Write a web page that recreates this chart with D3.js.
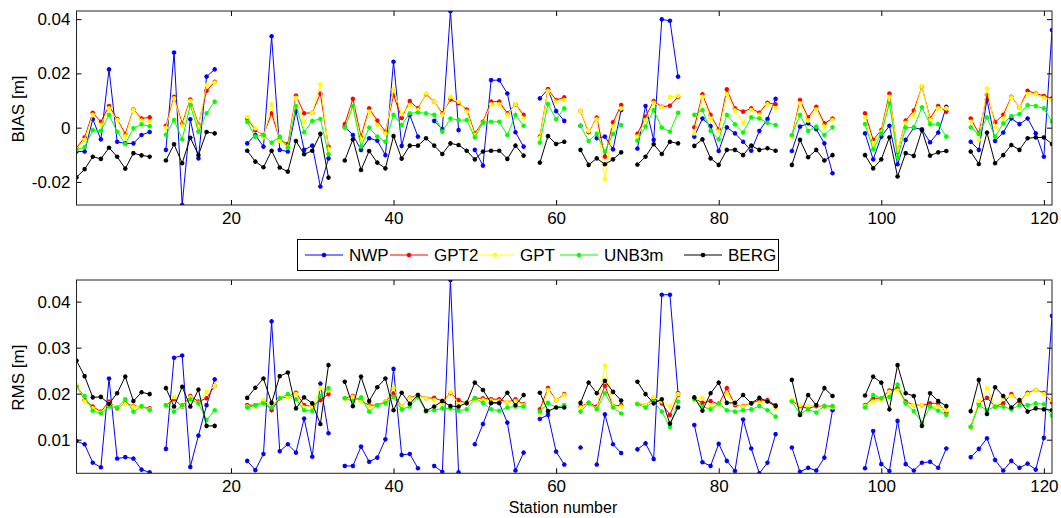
<!DOCTYPE html>
<html lang="en">
<head>
<meta charset="UTF-8" />
<title>BIAS and RMS per station</title>
<style>
  * { margin: 0; padding: 0; }
  body { background: #fff; }
  svg text { font-family: "Liberation Sans", Arial, sans-serif; fill: #000; }
</style>
</head>
<body>
<svg id="chart" width="1061" height="518"></svg>
<script src="https://d3js.org/d3.v7.min.js"></script>
<script>
// station numbers 1..121, null = no data, in millimetres
const n = null;

const seriesNames = ["NWP", "GPT2", "GPT", "UNB3m", "BERG"];
const seriesColors = ["#0000ff", "#ff0000", "#ffff00", "#00ff00", "#000000"];

const xTicks = [20, 40, 60, 80, 100, 120];
const biasTicks = [-0.02, 0, 0.02, 0.04];
const rmsTicks = [0.01, 0.02, 0.03, 0.04];

// BIAS [mm]
const biasNWP = [
  -8.8, -8.8, 3.1, -4.3, 21.5, -5.2, -5.8, -5.8, -2.7, -1.6,
  n, -8.2, 27.7, -28.5, 3.1, -11.3, 18.8, 21.5, n, n,
  n, -5.8, -2.7, -7.0, 33.7, -8.2, -8.8, 6.1, -8.2, -6.6,
  -21.7, -11.3, n, 0.4, -2.7, -8.2, -3.9, -4.8, -10.1, 24.3,
  -6.7, 4.7, -3.3, n, 2.5, -0.5, 42.9, -0.9, n, -8.2,
  -14.0, 17.5, 17.5, 12.6, -1.7, -7.0, n, 10.8, 14.1, 6.1,
  2.5, n, 0.7, n, -3.9, -3.3, -8.0, 6.5, n, -7.7,
  8.0, -4.5, 39.9, 39.4, 18.8, n, -3.3, 3.4, 0.6, -8.6,
  0.1, -2.1, -5.2, -8.5, -1.2, 3.2, 10.6, n, -8.6, 0.4,
  1.6, -0.6, -5.8, -16.8, n, n, n, -2.1, -11.7, -3.3,
  0.7, -13.5, -4.5, 0.0, -0.6, -5.4, -1.8, 7.7, n, n,
  -5.2, -8.2, 10.4, -4.9, -1.8, 3.4, 1.3, 3.4, -2.1, -10.7,
  36.0
];
const biasGPT2 = [
  -7.4, -3.6, 5.5, 2.2, 8.0, 3.2, -2.3, 6.7, 3.4, 3.8,
  n, 0.7, 11.4, 1.5, 10.4, 1.1, 13.6, 16.9, n, n,
  n, 3.4, -0.9, -2.7, 5.3, -4.5, -6.0, 11.8, 5.3, 5.5,
  12.6, -7.0, n, 1.3, 10.6, -3.3, 7.1, 2.6, -1.5, 12.0,
  3.6, 9.8, 7.1, 12.3, 9.6, 5.3, 10.4, 9.0, 6.7, -2.1,
  2.2, 9.6, 9.6, 5.3, 8.6, 4.7, n, -3.3, 14.1, 10.2,
  11.2, n, 6.1, -1.7, 3.7, -10.7, 2.0, 8.3, n, -2.3,
  4.0, 9.8, 7.7, 8.1, 11.4, n, 0.1, 12.3, 4.7, -0.6,
  14.1, 7.1, 5.9, 7.1, 5.5, 9.2, 8.6, n, -3.1, 10.2,
  3.8, 7.7, 1.6, 3.4, n, n, n, 5.3, -4.5, -0.9,
  12.6, -9.0, 2.6, 6.3, 15.1, 3.4, 8.0, 5.9, n, n,
  3.4, -2.1, 12.0, 2.0, 4.7, 11.4, 7.5, 13.6, 12.6, 11.7,
  10.8
];
const biasGPT = [
  -7.9, -4.5, 4.7, 1.0, 7.1, 2.8, -3.3, 6.5, 2.6, 2.1,
  n, -0.1, 10.8, 0.6, 9.9, 0.4, 15.7, 16.6, n, n,
  n, 4.0, -0.2, -3.6, 8.6, -4.9, -7.0, 11.0, 2.0, 5.5,
  16.0, -7.9, n, -0.2, 7.7, -4.3, 5.9, 1.0, -2.1, 14.1,
  5.0, 8.3, 6.5, 12.6, 9.6, 4.7, 11.4, 9.6, 5.9, -2.7,
  1.8, 8.6, 8.6, 4.7, 8.7, 3.4, n, -3.7, 13.6, 9.6,
  10.2, n, 6.1, -1.2, 3.1, -19.0, 0.4, 7.1, n, -3.3,
  2.8, 9.2, 7.5, 11.4, 11.7, n, -2.1, 11.4, 3.4, -1.5,
  12.3, 6.3, 1.8, 6.5, 4.7, 8.6, 7.1, n, -3.3, 9.0,
  2.6, 6.7, 0.4, 2.8, n, n, n, 3.8, -5.8, -1.5,
  11.4, -8.5, 1.8, 4.7, 15.3, 2.8, 7.1, 7.1, n, n,
  2.2, -4.5, 14.5, 0.1, 3.4, 11.2, 7.5, 12.4, 12.4, 11.0,
  10.2
];
const biasUNB3m = [
  -8.2, -7.2, -0.9, -1.2, 4.7, -1.5, -6.0, -0.2, 1.2, 0.5,
  n, -2.6, 2.8, -4.3, 8.3, -1.5, 5.3, 9.6, n, n,
  n, 2.1, -3.3, -2.7, -5.5, -3.3, -7.4, 8.0, -1.7, 2.5,
  3.2, -9.8, n, 0.0, 8.0, -7.0, 0.0, -3.3, -5.2, 4.7,
  1.0, 5.3, 5.6, 5.3, 4.7, -1.5, 3.4, 2.8, 2.8, -3.6,
  1.8, 2.2, 2.2, -2.7, 4.7, 0.7, n, -5.5, 8.7, 3.1,
  7.1, n, 0.7, -4.9, -2.3, -8.8, -2.3, 1.0, n, -4.8,
  0.4, 6.5, 0.0, -1.5, 5.5, n, 4.7, 6.5, -1.2, -4.3,
  4.7, 1.2, -1.8, 3.8, 3.4, 1.8, 1.0, n, -2.7, 4.7,
  -1.2, 0.4, -2.7, 0.1, n, n, n, 1.3, -8.0, -2.1,
  9.0, -11.0, 0.0, 0.1, 7.5, 1.3, 1.3, -3.3, n, n,
  0.1, -2.3, 3.8, -3.3, 1.6, 4.3, 5.0, 8.3, 8.0, 7.1,
  2.2
];
const biasBERG = [
  -18.3, -15.3, -10.7, -11.5, -7.4, -10.7, -15.1, -9.4, -10.2, -10.7,
  n, -12.1, -6.1, -13.1, -3.7, -10.1, -1.6, -2.1, n, n,
  n, -8.5, -12.5, -14.6, -8.5, -14.7, -16.2, -4.9, -9.8, -8.5,
  -2.3, -18.4, n, -12.1, -4.3, -15.6, -8.6, -12.9, -15.0, -3.1,
  -11.4, -6.6, -6.6, -3.9, -6.6, -9.7, -5.8, -6.4, -8.5, -11.7,
  -8.8, -8.5, -8.5, -11.5, -6.6, -10.3, n, -12.9, -3.1, -6.0,
  -5.2, n, -8.2, -13.7, -11.3, -13.5, -11.7, -9.1, n, -13.6,
  -10.7, -6.1, -9.7, -5.2, -5.8, n, -6.7, -4.3, -11.3, -13.7,
  -8.2, -8.2, -10.1, -6.6, -8.2, -7.6, -8.5, n, -13.7, -4.5,
  -10.9, -8.2, -12.1, -10.1, n, n, n, -10.1, -15.0, -11.7,
  -3.6, -18.0, -9.4, -10.4, -0.9, -10.3, -9.1, -8.6, n, n,
  -8.8, -13.4, -1.8, -13.1, -10.1, -6.4, -8.2, -3.9, -3.6, -3.6,
  -6.0
];

// RMS [mm]
const rmsNWP = [
  9.7, 9.0, 5.0, 4.0, 23.3, 5.9, 6.2, 5.9, 3.5, 2.9,
  n, 8.0, 27.8, 28.3, 4.1, 10.9, 17.5, 23.1, n, n,
  n, 5.4, 3.4, 6.9, 35.7, 7.5, 9.0, 7.2, 14.6, 6.3,
  22.2, 11.4, n, 4.3, 4.3, 8.5, 5.2, 6.1, 10.1, 25.4,
  6.7, 6.9, 3.8, n, 4.3, 3.0, 44.7, 2.9, n, 9.0,
  13.4, 18.0, 18.0, 13.7, 3.3, 7.2, n, 14.5, 15.4, 7.4,
  4.6, n, 8.3, n, 4.6, 15.5, 9.0, 7.1, n, 7.9,
  9.2, 5.8, 41.5, 41.5, 20.1, n, 13.2, 5.1, 4.3, 9.1,
  5.4, 3.2, 14.4, 8.1, 2.7, 5.0, 11.2, n, 8.3, 3.0,
  3.9, 3.3, 6.1, 16.4, n, n, n, 3.8, 11.9, 4.7,
  3.2, 14.1, 4.7, 3.3, 5.0, 5.2, 3.9, 8.1, n, n,
  6.2, 8.0, 10.3, 5.6, 3.3, 5.4, 3.9, 4.8, 3.5, 10.4,
  36.9
];
const rmsGPT2 = [
  21.7, 18.6, 17.2, 16.1, 18.3, 16.8, 17.9, 17.3, 17.2, 16.8,
  n, 17.5, 18.8, 17.2, 19.5, 18.3, 19.0, 21.7, n, n,
  n, 17.5, 17.5, 18.3, 16.4, 19.0, 19.3, 20.2, 17.5, 17.2,
  18.6, 19.9, n, 19.0, 19.5, 18.4, 17.5, 17.5, 18.3, 20.1,
  17.2, 19.1, 19.7, 19.0, 19.1, 18.4, 20.1, 18.6, 17.9, 19.0,
  19.0, 18.8, 18.8, 18.1, 18.8, 17.7, n, 16.6, 21.2, 18.6,
  19.9, n, 17.2, 18.0, 17.2, 21.7, 17.3, 17.5, n, 17.9,
  17.5, 19.0, 17.9, 15.4, 19.7, n, 19.0, 18.0, 18.4, 17.7,
  21.2, 17.5, 17.3, 17.9, 18.6, 18.6, 17.5, n, 18.4, 17.3,
  16.8, 17.3, 17.3, 17.2, n, n, n, 17.5, 19.0, 19.0,
  20.7, 21.2, 18.3, 17.5, 17.5, 17.9, 17.9, 15.9, n, n,
  12.8, 17.9, 19.1, 17.2, 17.9, 19.9, 18.3, 20.2, 20.8, 20.2,
  18.1
];
const rmsGPT = [
  22.0, 18.3, 16.8, 15.9, 17.9, 17.0, 17.7, 17.2, 17.2, 16.6,
  n, 17.5, 19.3, 17.3, 19.2, 18.0, 20.4, 21.7, n, n,
  n, 17.2, 17.2, 18.6, 17.2, 19.3, 19.3, 19.9, 17.0, 17.2,
  21.2, 20.7, n, 18.8, 19.3, 18.3, 17.2, 17.3, 18.3, 21.2,
  17.2, 19.0, 19.5, 19.0, 18.6, 17.5, 20.3, 17.7, 18.1, 18.6,
  18.6, 18.5, 18.4, 18.1, 18.4, 17.5, n, 15.6, 20.8, 18.6,
  19.7, n, 17.0, 17.9, 16.8, 26.1, 17.2, 17.2, n, 18.0,
  17.5, 19.3, 18.3, 17.2, 19.9, n, 18.6, 19.1, 17.2, 17.5,
  19.9, 17.8, 17.2, 17.8, 18.0, 18.3, 16.8, n, 18.6, 17.5,
  17.3, 17.5, 17.2, 17.0, n, n, n, 17.3, 18.3, 18.6,
  20.4, 20.7, 17.9, 17.5, 17.5, 17.2, 17.2, 16.4, n, n,
  12.7, 18.3, 21.2, 17.3, 19.0, 19.5, 18.6, 19.9, 20.8, 19.9,
  18.6
];
const rmsUNB3m = [
  21.5, 19.5, 16.3, 15.7, 17.2, 17.0, 18.8, 16.1, 17.3, 16.4,
  n, 17.5, 16.1, 17.5, 18.8, 17.9, 14.3, 16.4, n, n,
  n, 17.0, 17.5, 17.9, 17.0, 19.0, 19.9, 18.8, 16.4, 16.2,
  19.5, 21.2, n, 19.0, 18.4, 19.2, 16.1, 17.5, 18.0, 19.3,
  16.6, 17.2, 19.3, 16.1, 16.4, 16.8, 16.8, 16.3, 16.6, 19.0,
  18.0, 16.6, 16.3, 17.0, 17.2, 17.2, n, 16.1, 18.0, 17.0,
  17.5, n, 16.1, 18.0, 16.6, 20.1, 17.0, 15.7, n, 17.7,
  17.0, 18.3, 16.1, 12.8, 18.3, n, 18.8, 17.2, 16.6, 17.9,
  16.4, 16.1, 16.4, 16.6, 17.3, 16.4, 15.0, n, 18.3, 15.6,
  16.6, 15.9, 17.3, 17.3, n, n, n, 17.0, 19.7, 19.0,
  19.3, 22.0, 17.9, 16.2, 13.7, 17.2, 16.3, 15.4, n, n,
  12.8, 17.5, 16.4, 17.2, 17.2, 16.6, 17.5, 17.5, 17.9, 17.7,
  15.2
];
const rmsBERG = [
  27.2, 23.8, 19.2, 19.3, 17.8, 20.1, 23.7, 18.4, 20.3, 19.9,
  n, 21.2, 17.2, 21.5, 17.2, 20.9, 13.0, 13.0, n, n,
  n, 19.1, 21.3, 23.3, 18.0, 23.8, 24.6, 16.8, 19.2, 17.9,
  13.4, 26.2, n, 22.6, 17.3, 23.7, 18.4, 21.4, 23.3, 16.4,
  20.2, 17.8, 19.7, 16.3, 17.2, 18.4, 17.3, 17.2, 18.0, 22.4,
  20.8, 18.0, 18.0, 20.2, 17.5, 19.7, n, 20.2, 16.2, 17.0,
  17.0, n, 18.0, 22.4, 20.1, 22.8, 20.4, 18.5, n, 22.6,
  19.9, 17.9, 18.8, 13.5, 17.0, n, 19.2, 16.3, 20.1, 22.4,
  18.0, 18.0, 19.7, 17.9, 19.1, 18.3, 17.3, n, 23.0, 15.4,
  19.7, 17.5, 21.2, 19.5, n, n, n, 19.6, 23.7, 22.4,
  16.6, 26.2, 20.1, 19.5, 13.0, 20.1, 18.4, 17.3, n, n,
  16.2, 23.0, 15.6, 21.4, 19.5, 17.0, 18.6, 16.1, 16.8, 16.6,
  16.4
];

const biasSeries = [biasNWP, biasGPT2, biasGPT, biasUNB3m, biasBERG];
const rmsSeries = [rmsNWP, rmsGPT2, rmsGPT, rmsUNB3m, rmsBERG];

const svg = d3.select("#chart");

const x = d3.scaleLinear().domain([1, 121]).range([76.5, 1052]);

const toPoints = arr => arr.map((v, i) => ({ s: i + 1, v: v == null ? null : v / 1000 }));

// small asterisk marker, like the matlab '*' at a tiny marker size
function marker(g, cx, cy, color) {
  const r = 2.3;
  g.append("path")
    .attr("d", `M${cx - r},${cy}L${cx + r},${cy}M${cx},${cy - r}L${cx},${cy + r}` +
      `M${cx - r * 0.7},${cy - r * 0.7}L${cx + r * 0.7},${cy + r * 0.7}` +
      `M${cx - r * 0.7},${cy + r * 0.7}L${cx + r * 0.7},${cy - r * 0.7}`)
    .attr("stroke", color)
    .attr("stroke-width", 1.3)
    .attr("fill", "none");
}

function panel(id, series, yDomain, top, bottom, yTicks, yLabel) {
  const y = d3.scaleLinear().domain(yDomain).range([bottom, top]);
  const x0 = x.range()[0], x1 = x.range()[1];
  const g = svg.append("g");

  g.append("defs").append("clipPath").attr("id", "clip-" + id)
    .append("rect").attr("x", x0).attr("y", top).attr("width", x1 - x0).attr("height", bottom - top);

  const plot = g.append("g").attr("clip-path", `url(#clip-${id})`);
  const line = d3.line().defined(d => d.v != null).x(d => x(d.s)).y(d => y(d.v));

  series.forEach((arr, k) => {
    const pts = toPoints(arr);
    const color = seriesColors[k];
    plot.append("path")
      .datum(pts)
      .attr("d", line)
      .attr("fill", "none")
      .attr("stroke", color)
      .attr("stroke-width", 1);
    const mg = plot.append("g");
    pts.filter(d => d.v != null).forEach(d => marker(mg, x(d.s), y(d.v), color));
  });

  // axes, ticks pointing inwards on all four sides
  const fmt = d => d === 0 ? "0" : d.toFixed(2);
  const styleAxis = sel => {
    sel.select(".domain").remove();
    sel.selectAll("line").attr("stroke", "#000");
    sel.selectAll("text").attr("font-size", "17px").attr("fill", "#000")
      .attr("font-family", '"Liberation Sans", Arial, sans-serif');
  };
  g.append("g").attr("transform", `translate(${x0},0)`)
    .call(d3.axisLeft(y).tickValues(yTicks).tickFormat(fmt).tickSizeInner(-5).tickSizeOuter(0).tickPadding(6))
    .call(styleAxis);
  g.append("g").attr("transform", `translate(${x1},0)`)
    .call(d3.axisRight(y).tickValues(yTicks).tickFormat("").tickSizeInner(-5).tickSizeOuter(0))
    .call(styleAxis);
  g.append("g").attr("transform", `translate(0,${bottom})`)
    .call(d3.axisBottom(x).tickValues(xTicks).tickFormat(d3.format("d")).tickSizeInner(-5).tickSizeOuter(0).tickPadding(7))
    .call(styleAxis);
  g.append("g").attr("transform", `translate(0,${top})`)
    .call(d3.axisTop(x).tickValues(xTicks).tickFormat("").tickSizeInner(-5).tickSizeOuter(0))
    .call(styleAxis);

  g.append("rect")
    .attr("x", x0).attr("y", top).attr("width", x1 - x0).attr("height", bottom - top)
    .attr("fill", "none").attr("stroke", "#222").attr("stroke-width", 1);

  g.append("text")
    .attr("transform", `translate(18,${(top + bottom) / 2 + 1}) rotate(-90)`)
    .attr("text-anchor", "middle")
    .attr("dominant-baseline", "central")
    .attr("font-size", "17px")
    .text(yLabel);
}

panel("bias", biasSeries, [-0.0285, 0.0430], 11, 205, biasTicks, "BIAS [m]");
panel("rms", rmsSeries, [0.0027, 0.0447], 280, 473.3, rmsTicks, "RMS [m]");

svg.append("text")
  .attr("x", 563).attr("y", 507)
  .attr("text-anchor", "middle")
  .attr("dominant-baseline", "central")
  .attr("font-size", "16px")
  .text("Station number");

// legend
const legend = svg.append("g");
legend.append("rect")
  .attr("x", 297.5).attr("y", 239.5).attr("width", 481).attr("height", 31)
  .attr("fill", "#fff").attr("stroke", "#000");
const legendX = [305, 390, 476, 560, 684];
seriesNames.forEach((name, k) => {
  const lx = legendX[k], ly = 255;
  legend.append("line")
    .attr("x1", lx).attr("x2", lx + 38).attr("y1", ly).attr("y2", ly)
    .attr("stroke", seriesColors[k]).attr("stroke-width", 1);
  marker(legend, lx + 19, ly, seriesColors[k]);
  legend.append("text")
    .attr("x", lx + 44).attr("y", ly)
    .attr("dominant-baseline", "central")
    .attr("font-size", "17px")
    .text(name);
});
</script>
</body>
</html>
